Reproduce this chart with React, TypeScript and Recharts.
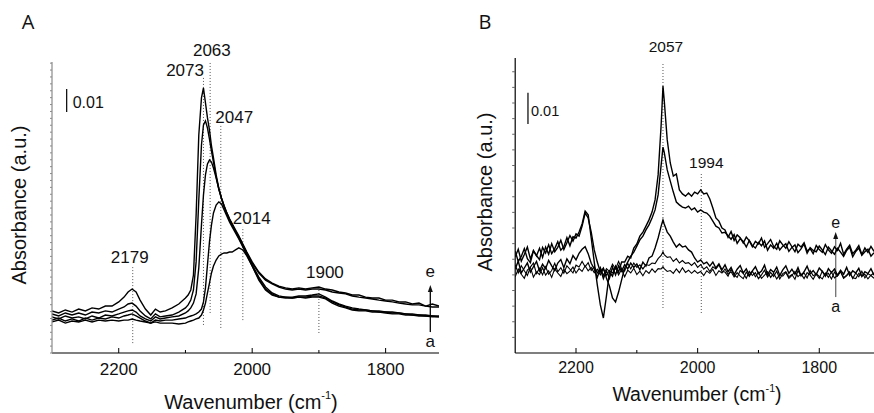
import { LineChart, Line, XAxis, YAxis, ReferenceLine } from 'recharts'

const FONT = '"Liberation Sans", Arial, sans-serif'

// ---- panel A: wavenumber grid (cm-1) and absorbance in mAbs, curves a..e
const WAVE_A = [
  2300, 2290, 2280, 2270, 2260, 2250, 2240, 2230, 2220, 2210, 2200,
  2192, 2186, 2180, 2174, 2168, 2160, 2152, 2145, 2138, 2130,
  2120, 2110, 2100, 2096, 2092, 2088, 2084, 2080, 2076,
  2073, 2070, 2067, 2064, 2061, 2058, 2054, 2050, 2046, 2042, 2038, 2034, 2030,
  2025, 2020, 2014, 2008, 2000,
  1990, 1980, 1970, 1960, 1950, 1940, 1930, 1920, 1910, 1900,
  1890, 1880, 1870, 1860, 1850, 1840, 1830, 1820, 1810, 1800,
  1790, 1780, 1770, 1760, 1750, 1740, 1730, 1720,
]
const A_e = [
  18.3, 17.4, 18.7, 17.8, 19.1, 18.3, 19.6, 19.1, 20.4, 20.4, 22.2,
  24.3, 26.5, 27.8, 26.5, 23.0, 19.1, 16.5, 19.1, 17.8, 18.3,
  19.6, 21.3, 23.9, 25.2, 27.4, 33.9, 60.0, 94.8, 110.9,
  115.2, 108.7, 102.2, 97.0, 90.0, 84.8, 77.4, 71.7, 67.4, 63.9, 60.9, 58.3, 56.1,
  53.5, 50.9, 47.4, 43.9, 39.6,
  35.2, 32.2, 30.4, 29.1, 28.3, 27.8, 28.3, 27.8, 28.3, 28.7,
  27.8, 27.4, 26.5, 26.1, 25.2, 25.2, 24.3, 23.9, 23.9, 23.0,
  23.0, 22.2, 22.2, 21.3, 21.7, 20.4, 21.3, 20.4,
]
const A_d = [
  17.0, 16.1, 17.4, 16.5, 17.4, 16.5, 17.8, 17.4, 18.3, 17.8, 19.1,
  20.0, 21.3, 21.7, 20.4, 18.3, 16.1, 14.8, 17.0, 15.7, 16.1,
  16.5, 17.8, 19.6, 20.9, 23.0, 27.4, 39.6, 66.5, 90.4,
  99.1, 100.9, 97.8, 93.0, 87.8, 83.0, 76.5, 71.3, 67.0, 63.5, 60.4, 57.8, 55.7,
  53.0, 50.4, 47.0, 43.5, 39.1,
  34.8, 31.7, 30.0, 28.7, 27.8, 27.4, 27.8, 27.4, 27.8, 27.8,
  27.4, 26.5, 26.1, 25.7, 24.8, 24.3, 23.9, 23.5, 23.0, 22.6,
  22.2, 21.7, 21.3, 20.9, 20.9, 20.4, 20.0, 20.0,
]
const A_c = [
  15.7, 14.8, 16.1, 15.2, 15.7, 14.8, 16.1, 15.2, 16.5, 16.1, 17.0,
  17.8, 18.3, 18.7, 17.8, 16.1, 14.8, 13.9, 15.7, 14.8, 15.2,
  15.7, 16.1, 17.4, 18.3, 19.6, 21.7, 25.7, 37.0, 55.7,
  68.7, 77.4, 82.2, 83.9, 83.0, 80.4, 76.1, 71.3, 67.4, 63.9, 60.9, 58.3, 56.1,
  53.0, 50.0, 46.5, 43.0, 38.3,
  33.0, 28.7, 26.1, 24.8, 24.3, 24.3, 24.8, 24.8, 25.2, 25.7,
  24.3, 22.6, 21.3, 20.4, 19.6, 19.1, 18.7, 18.3, 18.3, 17.8,
  17.8, 17.4, 17.0, 17.0, 16.5, 16.5, 16.1, 16.1,
]
const A_b = [
  14.3, 15.2, 13.9, 14.8, 13.9, 15.2, 14.3, 15.2, 14.8, 15.7, 15.2,
  16.1, 16.5, 17.0, 16.1, 15.2, 13.9, 13.0, 14.3, 13.9, 14.3,
  14.3, 14.8, 15.2, 15.7, 16.1, 16.5, 17.0, 17.8, 19.1,
  22.2, 28.3, 38.3, 48.3, 55.7, 60.9, 64.3, 65.7, 64.8, 62.2, 59.6, 57.0, 54.8,
  52.2, 49.6, 46.1, 42.6, 37.8,
  32.2, 27.8, 25.7, 24.3, 23.9, 23.9, 24.3, 24.3, 24.8, 24.8,
  23.9, 22.2, 20.9, 20.0, 19.1, 18.7, 18.7, 18.3, 17.8, 17.8,
  17.4, 17.4, 17.0, 16.5, 16.5, 16.1, 16.1, 15.7,
]
const A_a = [
  13.5, 14.3, 13.0, 13.9, 13.5, 14.3, 13.5, 14.3, 13.9, 14.3, 13.9,
  14.3, 14.3, 14.8, 14.3, 13.9, 13.5, 13.0, 13.5, 13.0, 13.0,
  13.0, 12.6, 13.0, 13.5, 13.9, 14.3, 14.8, 15.2, 16.5,
  18.7, 21.7, 26.1, 30.4, 34.8, 37.8, 40.4, 42.2, 43.0, 43.5, 43.5, 43.9, 43.9,
  44.8, 45.7, 44.8, 42.2, 37.8,
  31.7, 27.4, 25.2, 24.3, 24.3, 23.9, 24.3, 23.9, 24.3, 24.3,
  23.5, 21.7, 20.4, 19.6, 18.7, 18.3, 18.3, 17.8, 17.8, 17.4,
  17.0, 17.0, 16.5, 16.5, 16.1, 16.1, 15.7, 15.7,
]

// ---- panel B
const WAVE_B = [
  2300, 2295, 2290, 2285, 2280, 2275, 2270, 2265, 2260, 2255,
  2250, 2245, 2240, 2235, 2230, 2225, 2220, 2215, 2210, 2205,
  2200, 2195, 2190, 2185, 2180, 2175, 2170, 2165, 2160, 2155,
  2150, 2145, 2140, 2135, 2130, 2125, 2120, 2115, 2110, 2105,
  2100, 2095, 2090, 2085, 2080, 2075, 2070, 2065, 2060, 2057,
  2055, 2050, 2045, 2040, 2035, 2030, 2025, 2020, 2015, 2010,
  2005, 2000, 1995, 1990, 1985, 1980, 1975, 1970, 1965, 1960,
  1955, 1950, 1945, 1940, 1935, 1930, 1925, 1920, 1915, 1910,
  1905, 1900, 1895, 1890, 1885, 1880, 1875, 1870, 1865, 1860,
  1855, 1850, 1845, 1840, 1835, 1830, 1825, 1820, 1815, 1810,
  1805, 1800, 1795, 1790, 1785, 1780, 1775, 1770, 1765, 1760,
  1755, 1750, 1745, 1740, 1735, 1730, 1725, 1720, 1715, 1710,
]
const B_e = [
  30.8, 33.2, 29.4, 31.5, 33.9, 30.1, 32.7, 31.2, 29.9, 33.8,
  32.0, 34.6, 31.8, 33.4, 35.6, 32.9, 34.0, 36.9, 34.3, 37.2,
  36.8, 38.7, 41.3, 45.4, 44.2, 36.8, 29.1, 21.8, 15.4, 11.2,
  18.2, 25.9, 24.6, 27.8, 25.9, 29.1, 29.1, 31.0, 30.4, 33.6,
  34.9, 37.4, 38.7, 40.6, 42.6, 45.1, 49.0, 57.0, 73.0, 85.4,
  81.0, 68.2, 60.8, 56.6, 57.3, 52.2, 50.9, 50.2, 51.2, 50.2,
  51.5, 50.9, 52.2, 50.9, 51.2, 49.3, 46.4, 43.2, 42.2, 40.0,
  39.4, 37.0, 38.9, 36.0, 37.8, 36.9, 35.2, 37.1, 35.9, 34.0,
  35.7, 34.9, 36.8, 33.8, 35.0, 36.3, 34.1, 33.2, 35.9, 34.6,
  33.5, 35.6, 34.0, 32.4, 34.8, 33.9, 35.3, 32.6, 33.4, 31.8,
  34.4, 33.1, 32.2, 34.7, 33.0, 31.9, 34.0, 32.8, 35.1, 31.6,
  33.2, 34.5, 31.8, 32.9, 34.4, 31.5, 33.6, 32.2, 34.1, 32.5,
]
const B_d = [
  32.6, 29.3, 30.9, 33.4, 30.2, 28.9, 32.8, 31.1, 33.5, 30.6,
  33.9, 31.6, 35.0, 32.4, 33.8, 36.1, 33.1, 35.3, 37.6, 35.8,
  38.1, 37.4, 40.6, 44.8, 43.2, 38.7, 33.0, 29.1, 25.9, 27.2,
  24.0, 21.4, 17.6, 16.3, 19.5, 23.4, 27.2, 29.1, 31.0, 32.3,
  34.2, 36.2, 37.4, 39.4, 41.0, 43.2, 45.8, 50.6, 60.2, 65.9,
  64.3, 58.6, 55.0, 51.5, 48.3, 47.4, 46.7, 46.4, 47.0, 45.8,
  46.4, 45.1, 45.8, 45.1, 44.8, 43.8, 42.2, 40.6, 40.0, 38.4,
  38.6, 37.5, 36.4, 37.9, 35.1, 36.6, 35.7, 33.9, 36.0, 34.4,
  33.6, 35.4, 34.3, 35.9, 32.9, 34.6, 33.5, 35.1, 33.0, 34.2,
  35.0, 32.5, 33.8, 34.6, 32.1, 33.3, 34.9, 31.9, 33.7, 32.8,
  32.4, 34.2, 33.0, 31.5, 33.9, 32.7, 31.6, 33.5, 32.3, 30.9,
  32.8, 33.9, 30.8, 32.5, 33.6, 31.3, 32.4, 33.2, 31.0, 32.1,
]
const B_c = [
  26.9, 29.4, 25.6, 27.2, 28.8, 25.9, 27.6, 29.3, 26.3, 28.4,
  27.0, 29.6, 27.9, 26.4, 28.8, 29.9, 27.3, 30.1, 28.6, 31.2,
  29.8, 31.9, 33.2, 34.0, 31.8, 28.7, 26.9, 24.2, 27.0, 23.8,
  26.3, 23.9, 27.5, 25.0, 27.9, 26.2, 28.3, 26.9, 28.8, 27.4,
  28.5, 26.6, 29.1, 27.8, 30.4, 31.0, 33.6, 36.8, 40.6, 42.6,
  41.3, 38.7, 37.4, 35.5, 33.9, 34.9, 33.9, 34.2, 33.0, 32.3,
  30.4, 29.1, 29.8, 28.5, 29.1, 27.8, 29.1, 27.2, 28.5, 26.6,
  28.2, 26.0, 27.4, 25.1, 26.8, 28.0, 25.6, 26.9, 24.9, 26.3,
  27.6, 25.4, 26.2, 28.1, 25.0, 26.7, 25.8, 27.5, 24.8, 26.6,
  27.9, 25.5, 26.8, 25.2, 27.3, 24.7, 26.0, 27.8, 25.3, 26.4,
  25.1, 27.2, 26.1, 24.6, 27.0, 25.7, 26.9, 24.9, 26.5, 25.2,
  27.4, 24.8, 26.3, 25.6, 27.1, 24.5, 26.0, 25.4, 27.0, 24.9,
]
const B_b = [
  28.2, 25.6, 27.9, 26.3, 24.8, 27.5, 28.8, 25.4, 27.1, 25.0,
  27.6, 25.2, 26.4, 28.7, 26.0, 27.3, 25.5, 27.9, 26.8, 25.6,
  28.1, 27.5, 29.3, 27.6, 28.9, 26.4, 27.6, 25.6, 27.4, 24.8,
  27.0, 26.1, 28.4, 26.9, 29.3, 27.0, 26.2, 28.7, 26.9, 28.8,
  27.4, 28.2, 26.9, 28.3, 28.0, 28.8, 28.6, 30.2, 31.2, 32.4,
  31.5, 30.6, 30.8, 29.3, 30.2, 28.8, 29.6, 28.7, 28.9, 28.0,
  28.9, 27.4, 28.3, 26.8, 27.6, 26.1, 27.6, 26.9, 28.2, 26.1,
  25.9, 24.6, 26.8, 25.0, 24.2, 26.4, 25.5, 23.9, 26.1, 24.8,
  25.7, 23.8, 25.0, 26.5, 24.3, 25.8, 24.5, 26.2, 23.7, 25.4,
  26.0, 24.4, 25.1, 23.6, 26.3, 24.9, 25.6, 24.0, 26.4, 24.7,
  25.3, 23.9, 26.2, 24.8, 25.5, 23.7, 25.9, 24.6, 26.1, 24.1,
  24.9, 26.0, 23.8, 25.6, 24.4, 26.2, 24.0, 25.4, 24.8, 23.9,
]
const B_a = [
  24.4, 26.9, 25.2, 23.9, 26.5, 27.4, 24.3, 26.0, 25.1, 27.3,
  24.9, 26.3, 24.2, 27.0, 25.6, 24.5, 26.8, 25.4, 26.2, 27.5,
  25.6, 27.0, 26.1, 27.9, 26.3, 27.4, 25.7, 26.8, 25.0, 26.9,
  24.9, 26.4, 25.6, 27.3, 25.0, 26.8, 24.4, 26.5, 25.6, 27.1,
  25.1, 26.2, 24.7, 26.4, 25.5, 26.9, 25.8, 27.0, 26.9, 27.6,
  27.0, 26.1, 26.4, 25.5, 26.9, 25.7, 27.3, 25.8, 26.5, 25.5,
  26.4, 25.5, 26.1, 24.8, 26.3, 25.5, 26.8, 24.8, 26.3, 25.6,
  26.9, 25.2, 26.0, 24.3, 25.7, 24.6, 23.8, 25.9, 24.5, 26.2,
  24.4, 25.8, 23.9, 24.9, 26.0, 24.2, 25.5, 23.7, 25.1, 24.6,
  25.8, 23.9, 24.8, 26.1, 24.4, 25.3, 23.8, 25.7, 24.9, 23.6,
  25.4, 24.5, 23.7, 25.6, 24.2, 25.9, 24.0, 24.8, 26.0, 23.9,
  24.7, 25.8, 24.1, 23.8, 25.5, 24.6, 25.2, 23.7, 24.9, 25.6,
]

const X_TICKS = [2200, 2100, 2000, 1900, 1800]
const X_LABELED = [2200, 2000, 1800]

// marked bands: wavenumber, label, low / high end of the dotted marker (mAbs)
const PEAKS_A = [2179, 2073, 2063, 2047, 2014, 1900]
const PEAK_SPAN_A = [[4.3, 37.4], [12.2, 119.6], [17.4, 126.1], [10.9, 99.1], [14.3, 54.8], [8.7, 28.7]]
const PEAKS_B = [2057, 1994]
const PEAK_SPAN_B = [[14.4, 93.0], [12.8, 57.6]]

// label placement relative to the top of each marker
const PEAK_LABEL_A = [
  { dx: -3, dy: -4, anchor: 'middle' },
  { dx: 0.5, dy: -2, anchor: 'end' },
  { dx: 1.7, dy: -7, anchor: 'middle' },
  { dx: -5.5, dy: -2, anchor: 'start' },
  { dx: -10, dy: -3, anchor: 'start' },
  { dx: 6, dy: -9, anchor: 'middle' },
]
const PEAK_LABEL_B = [
  { dx: 3, dy: -10, anchor: 'middle' },
  { dx: 5, dy: -5, anchor: 'middle' },
]

const range = (from: number, to: number, step: number) => {
  const out: number[] = []
  for (let v = from; v <= to + 1e-9; v += step) out.push(v)
  return out
}

function toRows(wave: number[], a: number[], b: number[], c: number[], d: number[], e: number[]) {
  return wave.map((w, i) => ({ w, a: a[i], b: b[i], c: c[i], d: d[i], e: e[i] }))
}

const dataA = toRows(WAVE_A, A_a, A_b, A_c, A_d, A_e)
const dataB = toRows(WAVE_B, B_a, B_b, B_c, B_d, B_e)

function XTick(props: any) {
  const { x, y, payload, labelDy, fs } = props
  const major = X_LABELED.includes(payload.value)
  return (
    <g>
      <line x1={x} x2={x} y1={y} y2={y - (major ? 5 : 3)} stroke="#000" strokeWidth={1} />
      {major && (
        <text x={x} y={y + labelDy} textAnchor="middle" fontSize={fs} fontFamily={FONT} fill="#111">
          {payload.value}
        </text>
      )}
    </g>
  )
}

function YTick(props: any) {
  const { x, y, side, len, color } = props
  return <line x1={x} x2={x + side * len} y1={y} y2={y} stroke={color} strokeWidth={1} />
}

function PeakMark(props: any) {
  const { x1, y1, x2, y2, text, dx, dy, anchor, fs } = props
  const top = Math.min(y1, y2)
  return (
    <g>
      <line x1={x1} y1={y1} x2={x2} y2={y2} stroke="#555" strokeWidth={1} strokeDasharray="1 2" />
      <text x={x1 + dx} y={top + dy} textAnchor={anchor} fontSize={fs} fontFamily={FONT} fill="#111">
        {text}
      </text>
    </g>
  )
}

function ScaleBar(props: any) {
  const { x1, y1, x2, y2, dx, dy, fs } = props
  const top = Math.min(y1, y2)
  return (
    <g>
      <line x1={x1} y1={y1} x2={x2} y2={y2} stroke="#000" strokeWidth={1.2} />
      <text x={x1 + dx} y={top + dy} fontSize={fs} fontFamily={FONT} fill="#111">0.01</text>
    </g>
  )
}

function Arrow(props: any) {
  const { x1, y1, y2, color, fs, eDy, aDy } = props
  const top = Math.min(y1, y2)
  const bot = Math.max(y1, y2)
  return (
    <g>
      <line x1={x1} x2={x1} y1={bot} y2={top + 5} stroke={color} strokeWidth={1.4} />
      <polygon points={`${x1 - 2.5},${top + 7} ${x1 + 2.5},${top + 7} ${x1},${top}`} fill="#111" />
      <text x={x1} y={top + eDy} textAnchor="middle" fontSize={fs} fontFamily={FONT} fill="#111">e</text>
      <text x={x1} y={bot + aDy} textAnchor="middle" fontSize={fs} fontFamily={FONT} fill="#111">a</text>
    </g>
  )
}

const SERIES = ['a', 'b', 'c', 'd', 'e']

function AxisTitles({ left, xCx, xCy, yCx, yCy, letterCx, letter, fs }: any) {
  return (
    <>
      <div
        style={{
          position: 'absolute', left: left + letterCx, top: 22, transform: 'translate(-50%,-50%)',
          fontFamily: '"Open Sans", sans-serif', fontSize: 20, lineHeight: 1, color: '#111',
        }}
      >
        {letter}
      </div>
      <div
        style={{
          position: 'absolute', left: left + xCx, top: xCy, transform: 'translate(-50%,-50%)',
          fontFamily: FONT, fontSize: fs, lineHeight: 1, whiteSpace: 'nowrap', color: '#111',
        }}
      >
        Wavenumber (cm<sup style={{ fontSize: fs * 0.55, verticalAlign: 'top', position: 'relative', top: -2 }}>-1</sup>)
      </div>
      <div
        style={{
          position: 'absolute', left: left + yCx, top: yCy, transform: 'translate(-50%,-50%) rotate(-90deg)',
          fontFamily: FONT, fontSize: 20, lineHeight: 1, whiteSpace: 'nowrap', color: '#111',
        }}
      >
        Absorbance (a.u.)
      </div>
    </>
  )
}

export default function App() {
  return (
    <div style={{ position: 'absolute', left: 0, top: 0, width: 874, height: 413, background: '#fff', overflow: 'hidden' }}>
      <div style={{ position: 'absolute', left: 0, top: 0 }}>
        <LineChart width={440} height={413} data={dataA} margin={{ top: 62, right: 1, bottom: 30, left: 42 }}>
          <XAxis
            dataKey="w"
            type="number"
            domain={[1720, 2300]}
            reversed
            allowDataOverflow
            ticks={X_TICKS}
            interval={0}
            height={30}
            tickSize={0}
            tickMargin={0}
            tickLine={false}
            axisLine={{ stroke: '#000', strokeWidth: 1.2 }}
            tick={<XTick labelDy={22} fs={17} />}
          />
          <YAxis
            type="number"
            domain={[0, 126.5]}
            allowDataOverflow
            ticks={range(0, 126, 3)}
            interval={0}
            width={10}
            tickSize={0}
            tickMargin={0}
            tickLine={false}
            axisLine={{ stroke: '#8a8a8a', strokeWidth: 1.2 }}
            tick={<YTick side={-1} len={2} color="#8a8a8a" />}
          />
          {PEAKS_A.map((w, i) => (
            <ReferenceLine
              key={w}
              segment={[{ x: w, y: PEAK_SPAN_A[i][0] }, { x: w, y: PEAK_SPAN_A[i][1] }]}
              shape={(p: any) => <PeakMark {...p} text={String(w)} fs={17} {...PEAK_LABEL_A[i]} />}
            />
          ))}
          <ReferenceLine
            segment={[{ x: 2278, y: 104.8 }, { x: 2278, y: 114.8 }]}
            shape={(p: any) => <ScaleBar {...p} dx={6} dy={19} fs={16} />}
          />
          <ReferenceLine
            segment={[{ x: 1733, y: 9.1 }, { x: 1733, y: 29.6 }]}
            shape={(p: any) => <Arrow {...p} color="#111" fs={17} eDy={-7.5} aDy={14.5} />}
          />
          {SERIES.map((k) => (
            <Line key={k} dataKey={k} type="linear" stroke="#000" strokeWidth={1.4} dot={false} isAnimationActive={false} />
          ))}
        </LineChart>
      </div>

      <div style={{ position: 'absolute', left: 440, top: 0 }}>
        <LineChart width={434} height={413} data={dataB} margin={{ top: 58, right: 0, bottom: 30, left: 65.2 }}>
          <XAxis
            dataKey="w"
            type="number"
            domain={[1710, 2300]}
            reversed
            allowDataOverflow
            ticks={X_TICKS}
            interval={0}
            height={30}
            tickSize={0}
            tickMargin={0}
            tickLine={false}
            axisLine={{ stroke: '#000', strokeWidth: 1.2 }}
            tick={<XTick labelDy={20} fs={16} />}
          />
          <YAxis
            type="number"
            domain={[0, 94.4]}
            allowDataOverflow
            ticks={range(5, 90, 5)}
            interval={0}
            width={10}
            tickSize={0}
            tickMargin={0}
            tickLine={false}
            axisLine={{ stroke: '#000', strokeWidth: 1.2 }}
            tick={<YTick side={-1} len={3} color="#666" />}
          />
          {PEAKS_B.map((w, i) => (
            <ReferenceLine
              key={w}
              segment={[{ x: w, y: PEAK_SPAN_B[i][0] }, { x: w, y: PEAK_SPAN_B[i][1] }]}
              shape={(p: any) => <PeakMark {...p} text={String(w)} fs={15.5} {...PEAK_LABEL_B[i]} />}
            />
          ))}
          <ReferenceLine
            segment={[{ x: 2279, y: 73.3 }, { x: 2279, y: 83.3 }]}
            shape={(p: any) => <ScaleBar {...p} dx={3} dy={23.5} fs={14.5} />}
          />
          <ReferenceLine
            segment={[{ x: 1773, y: 17.9 }, { x: 1773, y: 38.7 }]}
            shape={(p: any) => <Arrow {...p} color="#777" fs={16} eDy={-4} aDy={15} />}
          />
          {SERIES.map((k) => (
            <Line
              key={k}
              dataKey={k}
              type="linear"
              stroke="#000"
              strokeWidth={k === 'a' || k === 'b' ? 1.1 : 1.4}
              dot={false}
              isAnimationActive={false}
            />
          ))}
        </LineChart>
      </div>

      <AxisTitles left={0} letter="A" letterCx={28} xCx={251} xCy={402} yCx={18.5} yCy={205} fs={20} />
      <AxisTitles left={440} letter="B" letterCx={45} xCx={257} xCy={395} yCx={45} yCy={192} fs={19.5} />
    </div>
  )
}
